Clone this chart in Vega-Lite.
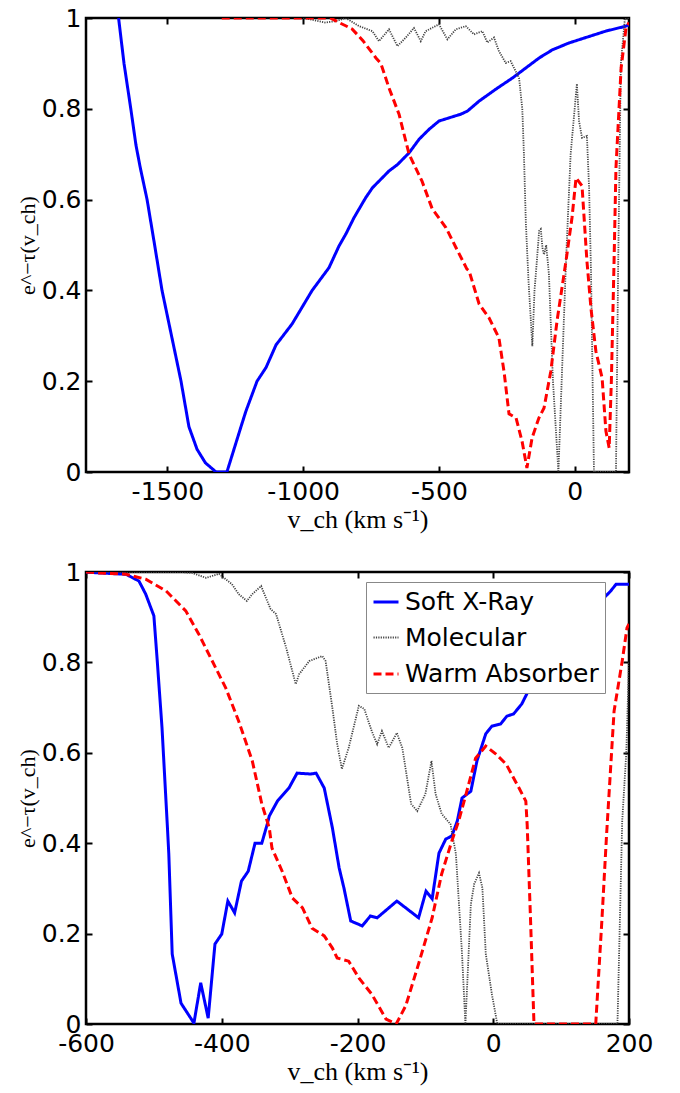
{
  "$schema": "https://vega.github.io/schema/vega-lite/v6.json",
  "background": "white",
  "padding": {"left": 14, "top": 4, "right": 5, "bottom": 5},
  "spacing": 24,
  "config": {
    "view": {"stroke": "black", "strokeWidth": 2.5},
    "axis": {
      "domain": false, "grid": false, "tickColor": "black", "tickWidth": 2, "tickSize": -6,
      "labelFont": "DejaVu Sans", "labelFontSize": 25, "labelColor": "black", "labelPadding": 13,
      "labelFlush": false, "labelOverlap": false,
      "titleFont": "Liberation Serif", "titleFontWeight": "normal", "titleColor": "black"
    },
    "axisY": {"labelPadding": 11}
  },
  "datasets": {
    "top": [
      {"s": "Soft X-Ray", "v": -1680, "t": 1.0},
      {"s": "Soft X-Ray", "v": -1660, "t": 0.9},
      {"s": "Soft X-Ray", "v": -1635, "t": 0.8},
      {"s": "Soft X-Ray", "v": -1616, "t": 0.72},
      {"s": "Soft X-Ray", "v": -1600, "t": 0.67},
      {"s": "Soft X-Ray", "v": -1575, "t": 0.6},
      {"s": "Soft X-Ray", "v": -1550, "t": 0.51},
      {"s": "Soft X-Ray", "v": -1520, "t": 0.4},
      {"s": "Soft X-Ray", "v": -1485, "t": 0.3},
      {"s": "Soft X-Ray", "v": -1450, "t": 0.2},
      {"s": "Soft X-Ray", "v": -1421, "t": 0.1},
      {"s": "Soft X-Ray", "v": -1391, "t": 0.05},
      {"s": "Soft X-Ray", "v": -1360, "t": 0.02},
      {"s": "Soft X-Ray", "v": -1321, "t": 0.0},
      {"s": "Soft X-Ray", "v": -1281, "t": 0.0},
      {"s": "Soft X-Ray", "v": -1255, "t": 0.05},
      {"s": "Soft X-Ray", "v": -1229, "t": 0.1},
      {"s": "Soft X-Ray", "v": -1211, "t": 0.134},
      {"s": "Soft X-Ray", "v": -1170, "t": 0.2},
      {"s": "Soft X-Ray", "v": -1137, "t": 0.23},
      {"s": "Soft X-Ray", "v": -1100, "t": 0.28},
      {"s": "Soft X-Ray", "v": -1041, "t": 0.326},
      {"s": "Soft X-Ray", "v": -967, "t": 0.4},
      {"s": "Soft X-Ray", "v": -905, "t": 0.45},
      {"s": "Soft X-Ray", "v": -868, "t": 0.498},
      {"s": "Soft X-Ray", "v": -843, "t": 0.524},
      {"s": "Soft X-Ray", "v": -813, "t": 0.56},
      {"s": "Soft X-Ray", "v": -770, "t": 0.604},
      {"s": "Soft X-Ray", "v": -745, "t": 0.626},
      {"s": "Soft X-Ray", "v": -684, "t": 0.663},
      {"s": "Soft X-Ray", "v": -653, "t": 0.677},
      {"s": "Soft X-Ray", "v": -610, "t": 0.703},
      {"s": "Soft X-Ray", "v": -573, "t": 0.733},
      {"s": "Soft X-Ray", "v": -536, "t": 0.755},
      {"s": "Soft X-Ray", "v": -500, "t": 0.773},
      {"s": "Soft X-Ray", "v": -463, "t": 0.78},
      {"s": "Soft X-Ray", "v": -420, "t": 0.788},
      {"s": "Soft X-Ray", "v": -395, "t": 0.795},
      {"s": "Soft X-Ray", "v": -352, "t": 0.817},
      {"s": "Soft X-Ray", "v": -291, "t": 0.843},
      {"s": "Soft X-Ray", "v": -229, "t": 0.868},
      {"s": "Soft X-Ray", "v": -180, "t": 0.89},
      {"s": "Soft X-Ray", "v": -131, "t": 0.912},
      {"s": "Soft X-Ray", "v": -82, "t": 0.93},
      {"s": "Soft X-Ray", "v": -21, "t": 0.945},
      {"s": "Soft X-Ray", "v": 41, "t": 0.957},
      {"s": "Soft X-Ray", "v": 114, "t": 0.971},
      {"s": "Soft X-Ray", "v": 188, "t": 0.982},
      {"s": "Soft X-Ray", "v": 200, "t": 0.985},
      {"s": "Molecular", "v": -1000, "t": 1.0},
      {"s": "Molecular", "v": -960, "t": 0.995},
      {"s": "Molecular", "v": -920, "t": 0.99},
      {"s": "Molecular", "v": -880, "t": 0.993},
      {"s": "Molecular", "v": -843, "t": 1.0},
      {"s": "Molecular", "v": -794, "t": 0.982},
      {"s": "Molecular", "v": -745, "t": 0.971},
      {"s": "Molecular", "v": -721, "t": 0.949},
      {"s": "Molecular", "v": -684, "t": 0.975},
      {"s": "Molecular", "v": -653, "t": 0.938},
      {"s": "Molecular", "v": -622, "t": 0.957},
      {"s": "Molecular", "v": -592, "t": 0.978},
      {"s": "Molecular", "v": -567, "t": 0.949},
      {"s": "Molecular", "v": -549, "t": 0.971},
      {"s": "Molecular", "v": -500, "t": 0.986},
      {"s": "Molecular", "v": -469, "t": 0.953},
      {"s": "Molecular", "v": -438, "t": 0.975},
      {"s": "Molecular", "v": -401, "t": 0.982},
      {"s": "Molecular", "v": -371, "t": 0.964},
      {"s": "Molecular", "v": -340, "t": 0.971},
      {"s": "Molecular", "v": -322, "t": 0.946},
      {"s": "Molecular", "v": -297, "t": 0.957},
      {"s": "Molecular", "v": -279, "t": 0.927},
      {"s": "Molecular", "v": -254, "t": 0.901},
      {"s": "Molecular", "v": -236, "t": 0.905},
      {"s": "Molecular", "v": -205, "t": 0.868},
      {"s": "Molecular", "v": -193, "t": 0.8},
      {"s": "Molecular", "v": -187, "t": 0.7},
      {"s": "Molecular", "v": -180, "t": 0.55},
      {"s": "Molecular", "v": -170, "t": 0.42},
      {"s": "Molecular", "v": -156, "t": 0.277},
      {"s": "Molecular", "v": -148, "t": 0.40},
      {"s": "Molecular", "v": -140, "t": 0.46},
      {"s": "Molecular", "v": -131, "t": 0.531},
      {"s": "Molecular", "v": -125, "t": 0.535},
      {"s": "Molecular", "v": -118, "t": 0.49},
      {"s": "Molecular", "v": -113, "t": 0.479},
      {"s": "Molecular", "v": -105, "t": 0.5},
      {"s": "Molecular", "v": -95, "t": 0.436},
      {"s": "Molecular", "v": -80, "t": 0.2},
      {"s": "Molecular", "v": -60, "t": 0.0},
      {"s": "Molecular", "v": -45, "t": 0.25},
      {"s": "Molecular", "v": -32, "t": 0.465},
      {"s": "Molecular", "v": -15, "t": 0.7},
      {"s": "Molecular", "v": 8, "t": 0.855},
      {"s": "Molecular", "v": 16, "t": 0.773},
      {"s": "Molecular", "v": 27, "t": 0.736},
      {"s": "Molecular", "v": 45, "t": 0.74},
      {"s": "Molecular", "v": 53, "t": 0.626},
      {"s": "Molecular", "v": 60, "t": 0.443},
      {"s": "Molecular", "v": 66, "t": 0.2},
      {"s": "Molecular", "v": 71, "t": 0.0},
      {"s": "Molecular", "v": 152, "t": 0.0},
      {"s": "Molecular", "v": 160, "t": 0.45},
      {"s": "Molecular", "v": 170, "t": 0.9},
      {"s": "Molecular", "v": 185, "t": 1.0},
      {"s": "Molecular", "v": 200, "t": 1.0},
      {"s": "Warm Absorber", "v": -1300, "t": 1.0},
      {"s": "Warm Absorber", "v": -900, "t": 1.0},
      {"s": "Warm Absorber", "v": -868, "t": 0.99},
      {"s": "Warm Absorber", "v": -820, "t": 0.976},
      {"s": "Warm Absorber", "v": -780, "t": 0.95},
      {"s": "Warm Absorber", "v": -732, "t": 0.912},
      {"s": "Warm Absorber", "v": -714, "t": 0.90},
      {"s": "Warm Absorber", "v": -684, "t": 0.846},
      {"s": "Warm Absorber", "v": -647, "t": 0.788},
      {"s": "Warm Absorber", "v": -610, "t": 0.70},
      {"s": "Warm Absorber", "v": -562, "t": 0.64},
      {"s": "Warm Absorber", "v": -525, "t": 0.58},
      {"s": "Warm Absorber", "v": -474, "t": 0.538},
      {"s": "Warm Absorber", "v": -437, "t": 0.494},
      {"s": "Warm Absorber", "v": -397, "t": 0.447},
      {"s": "Warm Absorber", "v": -389, "t": 0.443},
      {"s": "Warm Absorber", "v": -352, "t": 0.37},
      {"s": "Warm Absorber", "v": -316, "t": 0.34},
      {"s": "Warm Absorber", "v": -279, "t": 0.295},
      {"s": "Warm Absorber", "v": -260, "t": 0.22},
      {"s": "Warm Absorber", "v": -242, "t": 0.128},
      {"s": "Warm Absorber", "v": -216, "t": 0.119},
      {"s": "Warm Absorber", "v": -194, "t": 0.068},
      {"s": "Warm Absorber", "v": -176, "t": 0.009},
      {"s": "Warm Absorber", "v": -157, "t": 0.075},
      {"s": "Warm Absorber", "v": -132, "t": 0.119},
      {"s": "Warm Absorber", "v": -113, "t": 0.141},
      {"s": "Warm Absorber", "v": -88, "t": 0.222},
      {"s": "Warm Absorber", "v": -65, "t": 0.333},
      {"s": "Warm Absorber", "v": -32, "t": 0.465},
      {"s": "Warm Absorber", "v": -10, "t": 0.56},
      {"s": "Warm Absorber", "v": 5, "t": 0.648},
      {"s": "Warm Absorber", "v": 27, "t": 0.63},
      {"s": "Warm Absorber", "v": 45, "t": 0.465},
      {"s": "Warm Absorber", "v": 60, "t": 0.36},
      {"s": "Warm Absorber", "v": 78, "t": 0.266},
      {"s": "Warm Absorber", "v": 101, "t": 0.207},
      {"s": "Warm Absorber", "v": 115, "t": 0.09},
      {"s": "Warm Absorber", "v": 127, "t": 0.053},
      {"s": "Warm Absorber", "v": 135, "t": 0.2},
      {"s": "Warm Absorber", "v": 145, "t": 0.465},
      {"s": "Warm Absorber", "v": 152, "t": 0.67},
      {"s": "Warm Absorber", "v": 171, "t": 0.89},
      {"s": "Warm Absorber", "v": 189, "t": 0.978},
      {"s": "Warm Absorber", "v": 200, "t": 0.99}
    ],
    "bottom": [
      {"s": "Soft X-Ray", "v": -600, "t": 1.0},
      {"s": "Soft X-Ray", "v": -581, "t": 0.998},
      {"s": "Soft X-Ray", "v": -541, "t": 0.995},
      {"s": "Soft X-Ray", "v": -522, "t": 0.98},
      {"s": "Soft X-Ray", "v": -512, "t": 0.951},
      {"s": "Soft X-Ray", "v": -500, "t": 0.903},
      {"s": "Soft X-Ray", "v": -495, "t": 0.803},
      {"s": "Soft X-Ray", "v": -488, "t": 0.655},
      {"s": "Soft X-Ray", "v": -480, "t": 0.434},
      {"s": "Soft X-Ray", "v": -478, "t": 0.376},
      {"s": "Soft X-Ray", "v": -473, "t": 0.155},
      {"s": "Soft X-Ray", "v": -460, "t": 0.046},
      {"s": "Soft X-Ray", "v": -441, "t": 0.002},
      {"s": "Soft X-Ray", "v": -431, "t": 0.091},
      {"s": "Soft X-Ray", "v": -420, "t": 0.013},
      {"s": "Soft X-Ray", "v": -410, "t": 0.177},
      {"s": "Soft X-Ray", "v": -400, "t": 0.199},
      {"s": "Soft X-Ray", "v": -391, "t": 0.272},
      {"s": "Soft X-Ray", "v": -381, "t": 0.246},
      {"s": "Soft X-Ray", "v": -371, "t": 0.316},
      {"s": "Soft X-Ray", "v": -361, "t": 0.338},
      {"s": "Soft X-Ray", "v": -351, "t": 0.400},
      {"s": "Soft X-Ray", "v": -341, "t": 0.400},
      {"s": "Soft X-Ray", "v": -333, "t": 0.442},
      {"s": "Soft X-Ray", "v": -330, "t": 0.46},
      {"s": "Soft X-Ray", "v": -318, "t": 0.493},
      {"s": "Soft X-Ray", "v": -301, "t": 0.522},
      {"s": "Soft X-Ray", "v": -289, "t": 0.555},
      {"s": "Soft X-Ray", "v": -269, "t": 0.553},
      {"s": "Soft X-Ray", "v": -261, "t": 0.555},
      {"s": "Soft X-Ray", "v": -249, "t": 0.522},
      {"s": "Soft X-Ray", "v": -237, "t": 0.434},
      {"s": "Soft X-Ray", "v": -227, "t": 0.345},
      {"s": "Soft X-Ray", "v": -220, "t": 0.301},
      {"s": "Soft X-Ray", "v": -210, "t": 0.228},
      {"s": "Soft X-Ray", "v": -193, "t": 0.217},
      {"s": "Soft X-Ray", "v": -181, "t": 0.239},
      {"s": "Soft X-Ray", "v": -171, "t": 0.235},
      {"s": "Soft X-Ray", "v": -142, "t": 0.272},
      {"s": "Soft X-Ray", "v": -110, "t": 0.235},
      {"s": "Soft X-Ray", "v": -99, "t": 0.294},
      {"s": "Soft X-Ray", "v": -90, "t": 0.277},
      {"s": "Soft X-Ray", "v": -80, "t": 0.378},
      {"s": "Soft X-Ray", "v": -70, "t": 0.409},
      {"s": "Soft X-Ray", "v": -61, "t": 0.416},
      {"s": "Soft X-Ray", "v": -53, "t": 0.449},
      {"s": "Soft X-Ray", "v": -46, "t": 0.50},
      {"s": "Soft X-Ray", "v": -33, "t": 0.515},
      {"s": "Soft X-Ray", "v": -24, "t": 0.582},
      {"s": "Soft X-Ray", "v": -11, "t": 0.642},
      {"s": "Soft X-Ray", "v": -2, "t": 0.659},
      {"s": "Soft X-Ray", "v": 11, "t": 0.664},
      {"s": "Soft X-Ray", "v": 20, "t": 0.681},
      {"s": "Soft X-Ray", "v": 30, "t": 0.686},
      {"s": "Soft X-Ray", "v": 42, "t": 0.708},
      {"s": "Soft X-Ray", "v": 53, "t": 0.741},
      {"s": "Soft X-Ray", "v": 70, "t": 0.79},
      {"s": "Soft X-Ray", "v": 90, "t": 0.84},
      {"s": "Soft X-Ray", "v": 110, "t": 0.88},
      {"s": "Soft X-Ray", "v": 130, "t": 0.91},
      {"s": "Soft X-Ray", "v": 150, "t": 0.935},
      {"s": "Soft X-Ray", "v": 166, "t": 0.947},
      {"s": "Soft X-Ray", "v": 173, "t": 0.958},
      {"s": "Soft X-Ray", "v": 181, "t": 0.973},
      {"s": "Soft X-Ray", "v": 200, "t": 0.973},
      {"s": "Molecular", "v": -600, "t": 1.0},
      {"s": "Molecular", "v": -460, "t": 1.0},
      {"s": "Molecular", "v": -444, "t": 0.998},
      {"s": "Molecular", "v": -423, "t": 0.987},
      {"s": "Molecular", "v": -404, "t": 0.996},
      {"s": "Molecular", "v": -385, "t": 0.973},
      {"s": "Molecular", "v": -375, "t": 0.951},
      {"s": "Molecular", "v": -363, "t": 0.936},
      {"s": "Molecular", "v": -355, "t": 0.951},
      {"s": "Molecular", "v": -342, "t": 0.969},
      {"s": "Molecular", "v": -335, "t": 0.943},
      {"s": "Molecular", "v": -328, "t": 0.918},
      {"s": "Molecular", "v": -320, "t": 0.907},
      {"s": "Molecular", "v": -305, "t": 0.832},
      {"s": "Molecular", "v": -291, "t": 0.752},
      {"s": "Molecular", "v": -286, "t": 0.774},
      {"s": "Molecular", "v": -271, "t": 0.803},
      {"s": "Molecular", "v": -252, "t": 0.814},
      {"s": "Molecular", "v": -247, "t": 0.803},
      {"s": "Molecular", "v": -237, "t": 0.699},
      {"s": "Molecular", "v": -230, "t": 0.62},
      {"s": "Molecular", "v": -223, "t": 0.564},
      {"s": "Molecular", "v": -213, "t": 0.611},
      {"s": "Molecular", "v": -198, "t": 0.704},
      {"s": "Molecular", "v": -190, "t": 0.697},
      {"s": "Molecular", "v": -179, "t": 0.648},
      {"s": "Molecular", "v": -171, "t": 0.619},
      {"s": "Molecular", "v": -164, "t": 0.648},
      {"s": "Molecular", "v": -154, "t": 0.611},
      {"s": "Molecular", "v": -142, "t": 0.644},
      {"s": "Molecular", "v": -134, "t": 0.611},
      {"s": "Molecular", "v": -121, "t": 0.487},
      {"s": "Molecular", "v": -112, "t": 0.471},
      {"s": "Molecular", "v": -100, "t": 0.509},
      {"s": "Molecular", "v": -91, "t": 0.582},
      {"s": "Molecular", "v": -85, "t": 0.509},
      {"s": "Molecular", "v": -76, "t": 0.465},
      {"s": "Molecular", "v": -63, "t": 0.442},
      {"s": "Molecular", "v": -55, "t": 0.376},
      {"s": "Molecular", "v": -46, "t": 0.155},
      {"s": "Molecular", "v": -41, "t": 0.0},
      {"s": "Molecular", "v": -33, "t": 0.265},
      {"s": "Molecular", "v": -28, "t": 0.31},
      {"s": "Molecular", "v": -21, "t": 0.334},
      {"s": "Molecular", "v": -16, "t": 0.301},
      {"s": "Molecular", "v": -11, "t": 0.155},
      {"s": "Molecular", "v": -2, "t": 0.066},
      {"s": "Molecular", "v": 6, "t": 0.0},
      {"s": "Molecular", "v": 183, "t": 0.0},
      {"s": "Molecular", "v": 190, "t": 0.449},
      {"s": "Molecular", "v": 196, "t": 0.6},
      {"s": "Molecular", "v": 200, "t": 0.8},
      {"s": "Warm Absorber", "v": -600, "t": 1.0},
      {"s": "Warm Absorber", "v": -581, "t": 0.998},
      {"s": "Warm Absorber", "v": -541, "t": 0.995},
      {"s": "Warm Absorber", "v": -512, "t": 0.984},
      {"s": "Warm Absorber", "v": -482, "t": 0.958},
      {"s": "Warm Absorber", "v": -453, "t": 0.914},
      {"s": "Warm Absorber", "v": -434, "t": 0.863},
      {"s": "Warm Absorber", "v": -414, "t": 0.803},
      {"s": "Warm Absorber", "v": -394, "t": 0.743},
      {"s": "Warm Absorber", "v": -375, "t": 0.670},
      {"s": "Warm Absorber", "v": -355, "t": 0.582},
      {"s": "Warm Absorber", "v": -341, "t": 0.487},
      {"s": "Warm Absorber", "v": -330, "t": 0.434},
      {"s": "Warm Absorber", "v": -326, "t": 0.389},
      {"s": "Warm Absorber", "v": -311, "t": 0.338},
      {"s": "Warm Absorber", "v": -296, "t": 0.279},
      {"s": "Warm Absorber", "v": -281, "t": 0.257},
      {"s": "Warm Absorber", "v": -267, "t": 0.212},
      {"s": "Warm Absorber", "v": -249, "t": 0.195},
      {"s": "Warm Absorber", "v": -237, "t": 0.168},
      {"s": "Warm Absorber", "v": -230, "t": 0.146},
      {"s": "Warm Absorber", "v": -213, "t": 0.139},
      {"s": "Warm Absorber", "v": -198, "t": 0.102},
      {"s": "Warm Absorber", "v": -179, "t": 0.066},
      {"s": "Warm Absorber", "v": -158, "t": 0.011},
      {"s": "Warm Absorber", "v": -143, "t": 0.0},
      {"s": "Warm Absorber", "v": -129, "t": 0.04},
      {"s": "Warm Absorber", "v": -110, "t": 0.133},
      {"s": "Warm Absorber", "v": -90, "t": 0.235},
      {"s": "Warm Absorber", "v": -76, "t": 0.332},
      {"s": "Warm Absorber", "v": -61, "t": 0.405},
      {"s": "Warm Absorber", "v": -51, "t": 0.449},
      {"s": "Warm Absorber", "v": -40, "t": 0.509},
      {"s": "Warm Absorber", "v": -26, "t": 0.588},
      {"s": "Warm Absorber", "v": -11, "t": 0.615},
      {"s": "Warm Absorber", "v": 4, "t": 0.597},
      {"s": "Warm Absorber", "v": 19, "t": 0.575},
      {"s": "Warm Absorber", "v": 38, "t": 0.522},
      {"s": "Warm Absorber", "v": 48, "t": 0.493},
      {"s": "Warm Absorber", "v": 50, "t": 0.44},
      {"s": "Warm Absorber", "v": 55, "t": 0.228},
      {"s": "Warm Absorber", "v": 60, "t": 0.0},
      {"s": "Warm Absorber", "v": 151, "t": 0.0},
      {"s": "Warm Absorber", "v": 160, "t": 0.228},
      {"s": "Warm Absorber", "v": 167, "t": 0.42},
      {"s": "Warm Absorber", "v": 178, "t": 0.692},
      {"s": "Warm Absorber", "v": 190, "t": 0.803},
      {"s": "Warm Absorber", "v": 197, "t": 0.876},
      {"s": "Warm Absorber", "v": 200, "t": 0.885}
    ]
  },
  "resolve": {
    "scale": {"x": "independent", "y": "independent", "color": "independent", "strokeDash": "independent", "strokeWidth": "independent"}
  },
  "vconcat": [
    {
      "width": 543,
      "height": 454,
      "data": {"name": "top"},
      "layer": [
        {
          "mark": {"type": "line", "clip": true},
          "encoding": {
            "x": {"field": "v", "type": "quantitative",
              "scale": {"domain": [-1800, 200], "nice": false, "zero": false},
              "axis": {"orient": "bottom", "values": [-1500, -1000, -500, 0], "labelExpr": "'' + datum.value",
                "title": "v_ch (km s⁻¹)", "titleFontSize": 26, "titlePadding": 2}},
            "y": {"field": "t", "type": "quantitative",
              "scale": {"domain": [0, 1], "nice": false},
              "axis": {"orient": "left", "values": [0, 0.2, 0.4, 0.6, 0.8, 1], "labelExpr": "'' + datum.value",
                "title": "e^−τ(v_ch)", "titleFontSize": 22, "titlePadding": 2}},
            "color": {"field": "s", "type": "nominal",
              "scale": {"domain": ["Soft X-Ray", "Molecular", "Warm Absorber"], "range": ["#0000ff", "#444444", "#ff0000"]},
              "legend": null},
            "strokeDash": {"field": "s", "type": "nominal",
              "scale": {"domain": ["Soft X-Ray", "Molecular", "Warm Absorber"], "range": [[1, 0], [1.2, 1.2], [8, 4]]},
              "legend": null},
            "strokeWidth": {"field": "s", "type": "nominal",
              "scale": {"type": "ordinal", "domain": ["Soft X-Ray", "Molecular", "Warm Absorber"], "range": [3, 1.8, 3]},
              "legend": null}
          }
        },
        {
          "mark": {"type": "line", "strokeOpacity": 0},
          "encoding": {
            "x": {"field": "v", "type": "quantitative",
              "scale": {"domain": [-1800, 200], "nice": false, "zero": false},
              "axis": {"orient": "top", "values": [-1500, -1000, -500, 0], "labels": false, "title": null}},
            "y": {"field": "t", "type": "quantitative",
              "scale": {"domain": [0, 1], "nice": false},
              "axis": {"orient": "right", "values": [0, 0.2, 0.4, 0.6, 0.8, 1], "labels": false, "title": null}},
            "detail": {"field": "s"}
          }
        }
      ],
      "resolve": {"axis": {"x": "independent", "y": "independent"}}
    },
    {
      "width": 543,
      "height": 452,
      "data": {"name": "bottom"},
      "layer": [
        {
          "mark": {"type": "line", "clip": true},
          "encoding": {
            "x": {"field": "v", "type": "quantitative",
              "scale": {"domain": [-600, 200], "nice": false, "zero": false},
              "axis": {"orient": "bottom", "values": [-600, -400, -200, 0, 200], "labelExpr": "'' + datum.value",
                "title": "v_ch (km s⁻¹)", "titleFontSize": 26, "titlePadding": 2}},
            "y": {"field": "t", "type": "quantitative",
              "scale": {"domain": [0, 1], "nice": false},
              "axis": {"orient": "left", "values": [0, 0.2, 0.4, 0.6, 0.8, 1], "labelExpr": "'' + datum.value",
                "title": "e^−τ(v_ch)", "titleFontSize": 22, "titlePadding": 2}},
            "color": {"field": "s", "type": "nominal",
              "scale": {"domain": ["Soft X-Ray", "Molecular", "Warm Absorber"], "range": ["#0000ff", "#444444", "#ff0000"]},
              "legend": {"orient": "none", "legendX": 280, "legendY": 10, "title": null, "symbolType": "stroke",
                "symbolSize": 625, "labelFont": "DejaVu Sans", "labelFontSize": 25, "labelColor": "black", "labelLimit": 400,
                "strokeColor": "#888888", "fillColor": "white", "padding": 6, "rowPadding": 9, "labelOffset": 5}},
            "strokeDash": {"field": "s", "type": "nominal",
              "scale": {"domain": ["Soft X-Ray", "Molecular", "Warm Absorber"], "range": [[1, 0], [1.2, 1.2], [8, 4]]},
              "legend": {"orient": "none", "legendX": 280, "legendY": 10, "title": null, "symbolType": "stroke",
                "symbolSize": 625, "labelFont": "DejaVu Sans", "labelFontSize": 25, "labelColor": "black", "labelLimit": 400,
                "strokeColor": "#888888", "fillColor": "white", "padding": 6, "rowPadding": 9, "labelOffset": 5}},
            "strokeWidth": {"field": "s", "type": "nominal",
              "scale": {"type": "ordinal", "domain": ["Soft X-Ray", "Molecular", "Warm Absorber"], "range": [3, 1.8, 3]},
              "legend": {"orient": "none", "legendX": 280, "legendY": 10, "title": null, "symbolType": "stroke",
                "symbolSize": 625, "labelFont": "DejaVu Sans", "labelFontSize": 25, "labelColor": "black", "labelLimit": 400,
                "strokeColor": "#888888", "fillColor": "white", "padding": 6, "rowPadding": 9, "labelOffset": 5}}
          }
        },
        {
          "mark": {"type": "line", "strokeOpacity": 0},
          "encoding": {
            "x": {"field": "v", "type": "quantitative",
              "scale": {"domain": [-600, 200], "nice": false, "zero": false},
              "axis": {"orient": "top", "values": [-600, -400, -200, 0, 200], "labels": false, "title": null}},
            "y": {"field": "t", "type": "quantitative",
              "scale": {"domain": [0, 1], "nice": false},
              "axis": {"orient": "right", "values": [0, 0.2, 0.4, 0.6, 0.8, 1], "labels": false, "title": null}},
            "detail": {"field": "s"}
          }
        }
      ],
      "resolve": {"axis": {"x": "independent", "y": "independent"}}
    }
  ]
}
